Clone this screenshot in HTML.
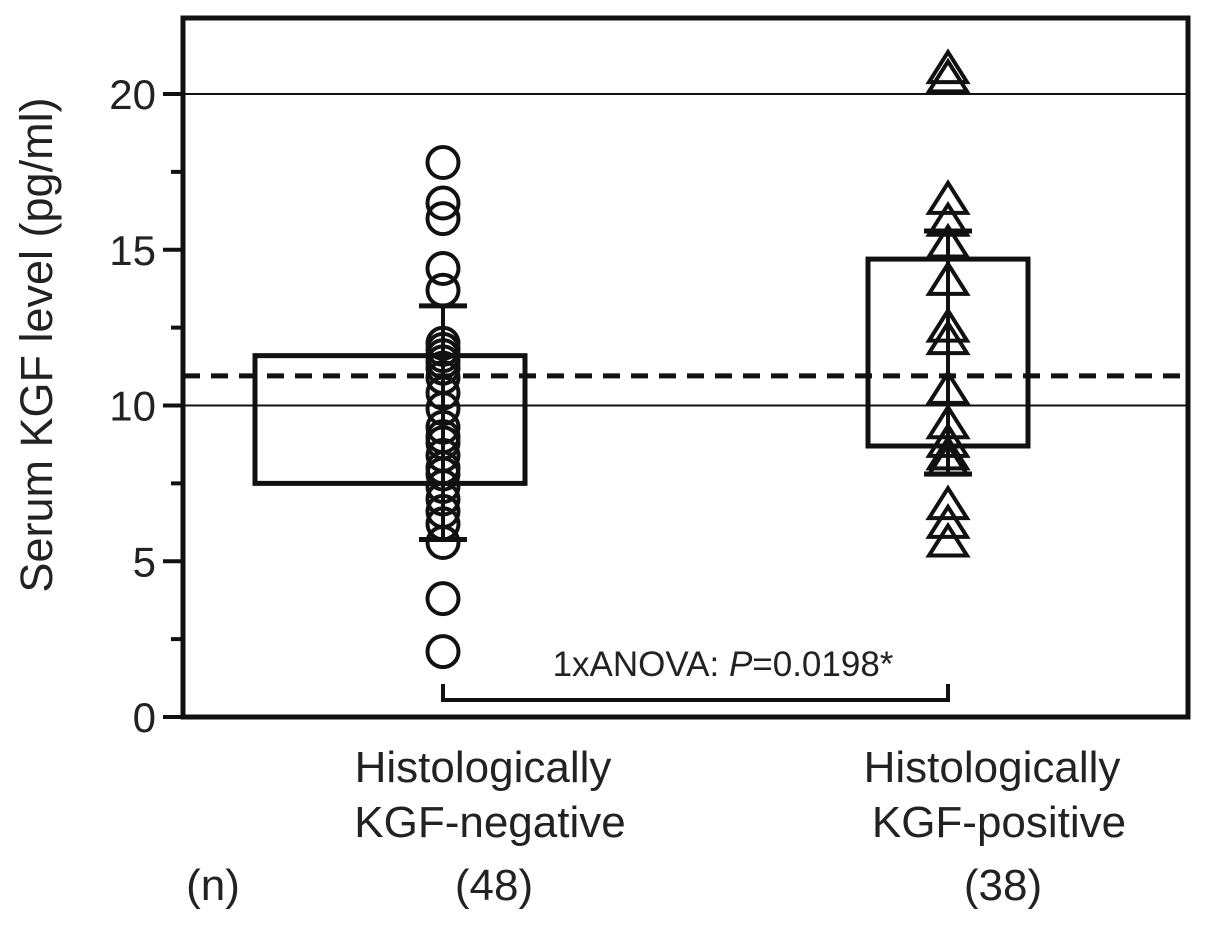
<!DOCTYPE html>
<html><head><meta charset="utf-8"><style>
html,body{margin:0;padding:0;background:#fff;}
svg{display:block;font-family:"Liberation Sans",Arial,sans-serif;}
</style></head><body>
<svg id="chart" width="1205" height="940" viewBox="0 0 1205 940">
<g id="plot"></g>
</svg>
<script>
const yTicks=[0,5,10,15,20];
const yMinor=[2.5,7.5,12.5,17.5];
const groups=["Histologically|KGF-negative","Histologically|KGF-positive"];
const groupN=["(48)","(38)"];
const negValues=[17.8,16.5,16.0,14.4,13.7,12.0,11.8,11.6,11.4,11.2,10.9,10.4,9.9,9.3,9.0,8.8,8.4,8.0,7.8,7.4,7.0,6.6,6.2,5.6,3.8,2.1];
const posValues=[20.8,20.5,16.6,15.9,15.2,14.0,12.5,12.1,10.5,9.4,8.8,8.4,8.2,6.8,6.2,5.6];
const boxLow=[7.5,8.7];
const boxHigh=[11.6,14.7];
const errLow=[5.7,7.8];
const errHigh=[13.2,15.6];
const cutoff=[10.95];
const refLines=[10,20];

const NS="http://www.w3.org/2000/svg";
const g=document.getElementById('plot');
const X0=183,X1=1188,Y0=717,YTOP=18;
const y=v=>Y0-v*31.15;
const cx=[443,948];
const labelX=[490,999];
const boxL=[255,868],boxR=[525,1028];
function el(t,a,p){const e=document.createElementNS(NS,t);for(const k in a)e.setAttribute(k,a[k]);(p||g).appendChild(e);return e;}

refLines.forEach(v=>{const l=el('line',{x1:X0,x2:X1,y1:y(v),y2:y(v),stroke:'#111','stroke-width':2});

});
const fr=el('path',{d:`M${X0},${YTOP} L${X1},${YTOP} L${X1},${Y0} L${X0},${Y0} Z`,fill:'none',stroke:'#111','stroke-width':5});


yTicks.forEach(v=>{el('line',{x1:X0-20,x2:X0,y1:y(v),y2:y(v),stroke:'#111','stroke-width':4});
const t=el('text',{x:X0-27,y:y(v)+15,'text-anchor':'end','font-size':42,fill:'#222'});t.textContent=v;

});
yMinor.forEach(v=>el('line',{x1:X0-12,x2:X0,y1:y(v),y2:y(v),stroke:'#111','stroke-width':4}));
const yt=el('text',{x:0,y:0,transform:'translate(52,345) rotate(-90)','text-anchor':'middle','font-size':45,fill:'#222'});
yt.textContent='Serum KGF level  (pg/ml)';



[0,1].forEach(i=>{
 const b=el('rect',{x:boxL[i],y:y(boxHigh[i]),width:boxR[i]-boxL[i],height:y(boxLow[i])-y(boxHigh[i]),fill:'none',stroke:'#111','stroke-width':5});
 
 
 el('line',{x1:cx[i],x2:cx[i],y1:y(errHigh[i]),y2:y(errLow[i]),stroke:'#111','stroke-width':4});
 [errHigh[i],errLow[i]].forEach(v=>el('line',{x1:cx[i]-24,x2:cx[i]+24,y1:y(v),y2:y(v),stroke:'#111','stroke-width':5}));
});
const dl=el('line',{x1:X0,x2:X1,y1:y(cutoff[0]),y2:y(cutoff[0]),stroke:'#111','stroke-width':5,'stroke-dasharray':'17,11'});



negValues.forEach(v=>{const c=el('circle',{cx:cx[0],cy:y(v),r:15.5,fill:'none',stroke:'#111','stroke-width':4});

});
posValues.forEach(v=>{const yy=y(v);const p=el('polygon',{points:`${cx[1]},${yy-17} ${cx[1]-19},${yy+13} ${cx[1]+19},${yy+13}`,fill:'none',stroke:'#111','stroke-width':4,'stroke-linejoin':'miter'});

});

const br=el('path',{d:`M${cx[0]},684 L${cx[0]},700 L${cx[1]},700 L${cx[1]},684`,fill:'none',stroke:'#111','stroke-width':4});


const st=el('text',{x:723,y:676,'text-anchor':'middle','font-size':35,fill:'#222'});
st.innerHTML='1xANOVA: <tspan font-style="italic">P</tspan>=0.0198*';



groups.forEach((gname,i)=>{const parts=gname.split('|');
 parts.forEach((s,j)=>{const t=el('text',{x:labelX[i]+(j?0:-7),y:782+j*55,'text-anchor':'middle','font-size':44,fill:'#222'});t.textContent=s.replace('-','\u2010');
 
 });
 const n=el('text',{x:labelX[i]+4,y:900,'text-anchor':'middle','font-size':44,fill:'#222'});n.textContent=groupN[i];
 
 
});
const nl=el('text',{x:213,y:900,'text-anchor':'middle','font-size':44,fill:'#222'});nl.textContent='(n)';


</script>
</body></html>
